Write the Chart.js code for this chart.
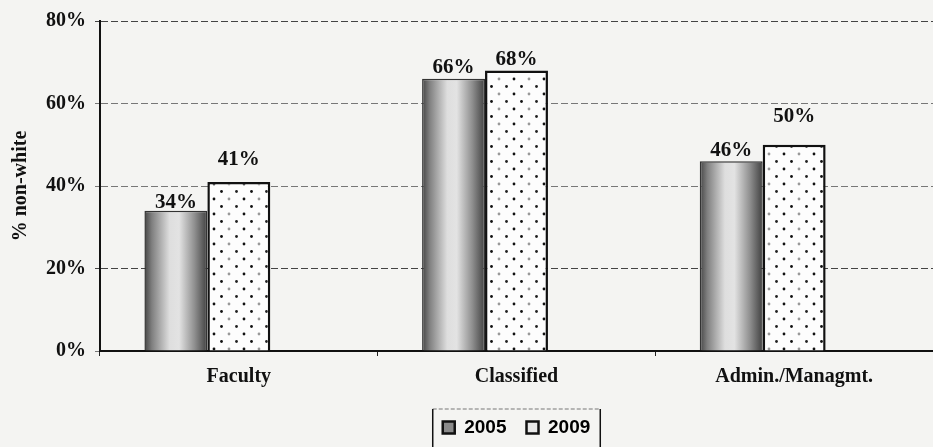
<!DOCTYPE html>
<html>
<head>
<meta charset="utf-8">
<script src="https://cdn.jsdelivr.net/npm/chart.js@4.4.1/dist/chart.umd.min.js"></script>
<style>
  html, body { margin: 0; padding: 0; background: #f4f4f2; }
  #wrap { width: 933px; height: 447px; position: relative; }
</style>
</head>
<body>
<div id="wrap"><canvas id="chart"></canvas></div>
<script>
const categories = ["Faculty", "Classified", "Admin./Managmt."];
const seriesNames = ["2005", "2009"];
const values2005 = [34, 66, 46];
const values2009 = [41, 68, 50];
const emptySeries = [null, null, null]; // Excel had a blank third series, keeps bars left of the label
const yTicks = [0, 20, 40, 60, 80];

// gap (px) between bar top and its value label, Excel nudged some up
const labelLift = [[3, 6, 5], [17, 6, 23]];

const CAT_PCT = 0.68;
const SERIF = "'Liberation Serif', 'Times New Roman', serif";

Chart.defaults.font.family = SERIF;
Chart.defaults.color = "#111";

// dotted fill for the 2009 bars (staggered rows, black and grey dots)
function makeDots() {
  const c = document.createElement("canvas");
  c.width = 30; c.height = 15;
  const g = c.getContext("2d");
  g.fillStyle = "#fdfdfd";
  g.fillRect(0, 0, 30, 15);
  const dot = (x, y, col) => { g.fillStyle = col; g.beginPath(); g.arc(x, y, 1.4, 0, Math.PI * 2); g.fill(); };
  dot(4, 4, "#111");
  dot(19, 4, "#999");
  dot(11.5, 11.5, "#111");
  dot(26.5, 11.5, "#222");
  return g.createPattern(c, "repeat");
}
const dots = makeDots();

// shaded (dark edges, light middle) fill for the 2005 bars
function shadedFill(ctx) {
  const chart = ctx.chart;
  const x = chart.scales.x;
  if (!x || !chart.chartArea || ctx.type !== "data") return "#999";
  const slot = x.width / categories.length;
  const group = slot * CAT_PCT;
  const bw = group / 3;
  const left = x.getPixelForValue(ctx.dataIndex) - group / 2;
  const g = chart.ctx.createLinearGradient(left, 0, left + bw, 0);
  g.addColorStop(0, "#444");
  g.addColorStop(0.12, "#808080");
  g.addColorStop(0.4, "#dedede");
  g.addColorStop(0.55, "#e3e3e3");
  g.addColorStop(0.8, "#8e8e8e");
  g.addColorStop(1, "#404040");
  return g;
}

const valueLabels = {
  id: "valueLabels",
  afterDatasetsDraw(chart) {
    const c = chart.ctx;
    c.save();
    c.font = "bold 21px " + SERIF;
    c.fillStyle = "#111";
    c.textAlign = "center";
    c.textBaseline = "alphabetic";
    [0, 1].forEach(di => {
      chart.getDatasetMeta(di).data.forEach((bar, i) => {
        const v = chart.data.datasets[di].data[i];
        c.fillText(v + "%", bar.x, bar.y - labelLift[di][i]);
      });
    });
    c.restore();
  }
};

const legendBox = {
  id: "legendBox",
  afterDraw(chart) {
    const hb = chart.legend.legendHitBoxes;
    if (!hb || !hb.length) return;
    const last = hb[hb.length - 1];
    const l = hb[0].left - 10, r = last.left + last.width + 10;
    const t = hb[0].top - 9, b = chart.height + 2;
    const c = chart.ctx;
    c.save();
    c.strokeStyle = "#777";
    c.lineWidth = 1;
    c.setLineDash([4, 2]);
    c.beginPath(); c.moveTo(l, t); c.lineTo(r, t); c.stroke();
    c.setLineDash([]);
    c.strokeStyle = "#111";
    c.lineWidth = 1.5;
    c.beginPath(); c.moveTo(l, t); c.lineTo(l, b); c.moveTo(r, t); c.lineTo(r, b); c.stroke();
    c.restore();
  }
};

new Chart(document.getElementById("chart"), {
  type: "bar",
  data: {
    labels: categories,
    datasets: [
      {
        label: seriesNames[0],
        data: values2005,
        backgroundColor: shadedFill,
        borderColor: "#333",
        borderWidth: 1.5,
        categoryPercentage: CAT_PCT,
        barPercentage: 1.0,
      },
      {
        label: seriesNames[1],
        data: values2009,
        backgroundColor: dots,
        borderColor: "#111",
        borderWidth: 2.5,
        categoryPercentage: CAT_PCT,
        barPercentage: 1.0,
      },
      {
        label: "",
        data: emptySeries,
        backgroundColor: "rgba(0,0,0,0)",
        categoryPercentage: CAT_PCT,
        barPercentage: 1.0,
      },
    ],
  },
  options: {
    responsive: true,
    maintainAspectRatio: false,
    animation: false,
    layout: { padding: { top: 21, right: 0, left: 0, bottom: 0 } },
    scales: {
      x: {
        grid: { display: true, drawOnChartArea: false, drawTicks: true, tickLength: 5, offset: true, color: "#222" },
        border: { display: true, color: "#111", width: 2 },
        ticks: { padding: 9, color: "#111", font: { size: 20, weight: "bold", family: SERIF } },
      },
      y: {
        min: yTicks[0],
        max: yTicks[yTicks.length - 1],
        afterBuildTicks: axis => { axis.ticks = yTicks.map(v => ({ value: v })); },
        grid: {
          color: ctx => (ctx.tick && (ctx.tick.value === 80 || ctx.tick.value === 20)) ? "#444" : "#777",
          lineWidth: 1,
          tickLength: 5,
        },
        border: { display: true, color: "#111", width: 2, dash: [7, 3] },
        ticks: {
          padding: 9,
          color: "#111",
          font: { size: 20, weight: "bold", family: SERIF },
          callback: v => v + "%",
        },
        title: {
          display: true,
          text: "% non-white",
          color: "#111",
          font: { size: 20, weight: "bold", family: SERIF },
          padding: { top: 9, bottom: 4 },
        },
      },
    },
    plugins: {
      tooltip: { enabled: false },
      legend: {
        position: "bottom",
        fullSize: false,
        labels: {
          padding: 20,
          boxWidth: 12,
          boxHeight: 12,
          color: "#111",
          font: { size: 19, weight: "bold", family: "'Liberation Sans', Arial, sans-serif" },
          generateLabels: () => [
            { text: seriesNames[0], fillStyle: "#8a8a8a", strokeStyle: "#111", lineWidth: 2.5, datasetIndex: 0 },
            { text: seriesNames[1], fillStyle: "#e8e8e8", strokeStyle: "#111", lineWidth: 2.5, datasetIndex: 1 },
          ],
        },
      },
    },
  },
  plugins: [valueLabels, legendBox],
});
</script>
</body>
</html>
